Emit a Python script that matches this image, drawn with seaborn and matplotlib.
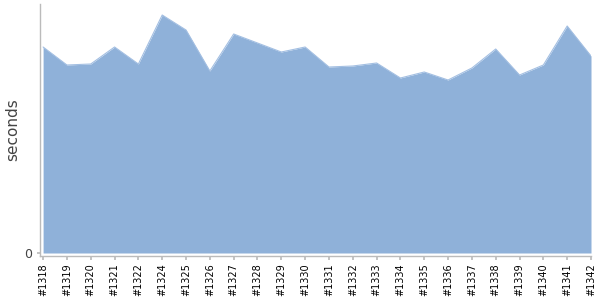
import matplotlib
matplotlib.use("Agg")
import matplotlib.pyplot as plt
import seaborn as sns
import numpy as np
import pandas as pd

builds = ["#1318", "#1319", "#1320", "#1321", "#1322", "#1324", "#1325", "#1326",
          "#1327", "#1328", "#1329", "#1330", "#1331", "#1332", "#1333", "#1334",
          "#1335", "#1336", "#1337", "#1338", "#1339", "#1340", "#1341", "#1342"]
seconds = [206, 188, 189, 206, 189, 238, 223, 182,
           219, 210, 201, 206, 186, 187, 190, 175,
           181, 173, 185, 204, 178, 188, 227, 197]

df = pd.DataFrame({"build": builds, "seconds": seconds})
df["pos"] = np.arange(len(df))

sns.set_theme(style="white")
plt.rcParams['font.family'] = ['DejaVu Sans']

fig = plt.figure(figsize=(6, 3), dpi=100)
ax = fig.add_axes([40/600, 44/300, 551/600, 252/300])

ax.fill_between(df["pos"], df["seconds"], 0, color="#8fb1d9", linewidth=0)
sns.lineplot(data=df, x="pos", y="seconds", ax=ax, color="#a3bfe2", linewidth=0.8)

ax.set_xlim(-0.13, len(df) - 1)
ax.set_ylim(-3, 249)
ax.set_xticks(df["pos"])
ax.set_xticklabels(df["build"], rotation=90, fontsize=7, color="black")
ax.set_yticks([0])
ax.set_yticklabels(["0"], fontsize=9, color="#444444")
ax.set_xlabel("")
ax.set_ylabel("seconds", fontsize=11, color="#444444", va="center")
ax.yaxis.set_label_coords(-27/551, 0.5)

for side in ["top", "right"]:
    ax.spines[side].set_visible(False)
for side in ["left", "bottom"]:
    ax.spines[side].set_color("#bbbbbb")
    ax.spines[side].set_linewidth(1)
ax.tick_params(axis="x", bottom=True, length=3, color="#bbbbbb", pad=2)
ax.tick_params(axis="y", left=True, length=2, color="#bbbbbb", pad=4)

fig.savefig("out.png", dpi=100)
